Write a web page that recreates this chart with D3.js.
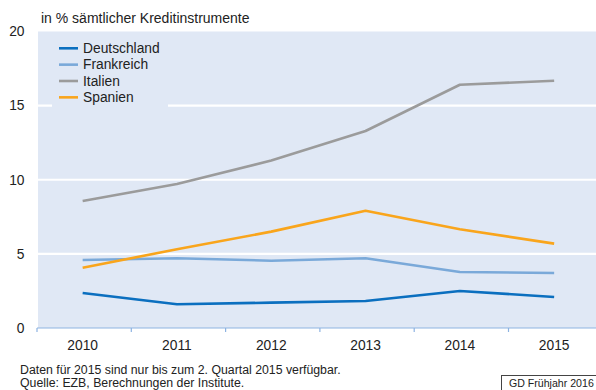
<!DOCTYPE html>
<html>
<head>
<meta charset="utf-8">
<script src="https://cdn.jsdelivr.net/npm/d3@7"></script>
<style>
  html, body { margin: 0; padding: 0; background: #fff; }
  svg { display: block; font-family: "Liberation Sans", Arial, sans-serif; }
</style>
</head>
<body>
<svg id="chart" width="596" height="390"></svg>
<script>
// Notleidende Kredite in ausgewählten Ländern des Euroraums
const years = ["2010", "2011", "2012", "2013", "2014", "2015"];
const deutschland = [2.36, 1.60, 1.71, 1.82, 2.50, 2.09];
const frankreich  = [4.59, 4.70, 4.54, 4.70, 3.78, 3.71];
const italien     = [8.57, 9.71, 11.30, 13.29, 16.41, 16.68];
const spanien     = [4.07, 5.31, 6.50, 7.91, 6.66, 5.69];
const yTicks = [0, 5, 10, 15, 20];

const seriesNames = ["Deutschland", "Frankreich", "Italien", "Spanien"];
const seriesValues = [deutschland, frankreich, italien, spanien];
const seriesColors = ["#0b6fbf", "#7aa9d9", "#9b9b9b", "#f9a51c"];

const svg = d3.select("#chart");

const plotLeft = 38, plotRight = 596, plotTop = 31.5, plotBottom = 328;

const x = d3.scaleBand().domain(years).range([35.5, 601.3]).padding(0);
const y = d3.scaleLinear().domain([0, 20]).range([plotBottom, plotTop]);

// Plot background
svg.append("rect")
  .attr("x", plotLeft).attr("y", plotTop)
  .attr("width", plotRight - plotLeft).attr("height", plotBottom - plotTop)
  .attr("fill", "#e0e8f5");

// Horizontal gridlines
svg.append("g").selectAll("line")
  .data(yTicks.filter(d => d > 0 && d < 20))
  .join("line")
  .attr("x1", plotLeft).attr("x2", plotRight)
  .attr("y1", d => y(d)).attr("y2", d => y(d))
  .attr("stroke", "#ffffff").attr("stroke-width", 2.2);

// Y tick labels
svg.append("g").selectAll("text")
  .data(yTicks)
  .join("text")
  .attr("x", 24.5).attr("y", d => y(d))
  .attr("dy", "0.35em")
  .attr("text-anchor", "end")
  .attr("font-size", 13.8).attr("fill", "#222")
  .text(d => d);

// X axis
const xAxis = d3.axisBottom(x).tickSize(0).tickPadding(0);
const xg = svg.append("g").attr("transform", `translate(0,${plotBottom})`);
xg.call(xAxis);
xg.select(".domain").remove();
xg.selectAll(".tick text")
  .attr("y", 17).attr("dy", "0.35em")
  .attr("font-size", 13.8).attr("fill", "#222")
  .attr("font-family", "Liberation Sans, Arial, sans-serif");
xg.append("line")
  .attr("x1", plotLeft - 1).attr("x2", plotRight)
  .attr("y1", 0).attr("y2", 0)
  .attr("stroke", "#8db3e2").attr("stroke-width", 1.2);
// Band boundary ticks
xg.append("g").selectAll("line")
  .data(years)
  .join("line")
  .attr("x1", d => x(d) + 1.5).attr("x2", d => x(d) + 1.5)
  .attr("y1", 0).attr("y2", 4)
  .attr("stroke", "#8db3e2").attr("stroke-width", 1.2);

// Lines
const line = d3.line()
  .x((d, i) => x(years[i]) + x.bandwidth() / 2)
  .y(d => y(d));

svg.append("g").selectAll("path")
  .data(seriesValues)
  .join("path")
  .attr("d", d => line(d))
  .attr("fill", "none")
  .attr("stroke", (d, i) => seriesColors[i])
  .attr("stroke-width", 2.6)
  .attr("stroke-linejoin", "round");

// Legend
const legend = svg.append("g");
legend.append("rect")
  .attr("x", 52).attr("y", 38).attr("width", 116).attr("height", 69.5)
  .attr("fill", "#e0e8f5");
const legendRow = legend.selectAll("g.row")
  .data(seriesNames)
  .join("g").attr("class", "row")
  .attr("transform", (d, i) => `translate(0,${48.3 + i * 16.35})`);
legendRow.append("line")
  .attr("x1", 59).attr("x2", 78).attr("y1", 0).attr("y2", 0)
  .attr("stroke", (d, i) => seriesColors[i]).attr("stroke-width", 2.6);
legendRow.append("text")
  .attr("x", 83).attr("y", 0).attr("dy", "0.35em")
  .attr("font-size", 13.8).attr("fill", "#222")
  .text(d => d);

// Unit label
svg.append("text")
  .attr("x", 41).attr("y", 18).attr("dy", "0.35em")
  .attr("font-size", 14).attr("fill", "#222")
  .text("in % sämtlicher Kreditinstrumente");

// Notes
svg.append("text")
  .attr("x", 20).attr("y", 370).attr("dy", "0.35em")
  .attr("font-size", 12.3).attr("fill", "#222")
  .text("Daten für 2015 sind nur bis zum 2. Quartal 2015 verfügbar.");
svg.append("text")
  .attr("x", 20).attr("y", 382.5).attr("dy", "0.35em")
  .attr("font-size", 12.3).attr("fill", "#222")
  .text("Quelle: EZB, Berechnungen der Institute.");

// Publication tag
svg.append("rect")
  .attr("x", 501.5).attr("y", 375.5).attr("width", 100).attr("height", 20)
  .attr("fill", "#fff").attr("stroke", "#444").attr("stroke-width", 1);
svg.append("text")
  .attr("x", 509).attr("y", 383).attr("dy", "0.35em")
  .attr("font-size", 10.6).attr("fill", "#222")
  .text("GD Frühjahr 2016");
</script>
</body>
</html>
